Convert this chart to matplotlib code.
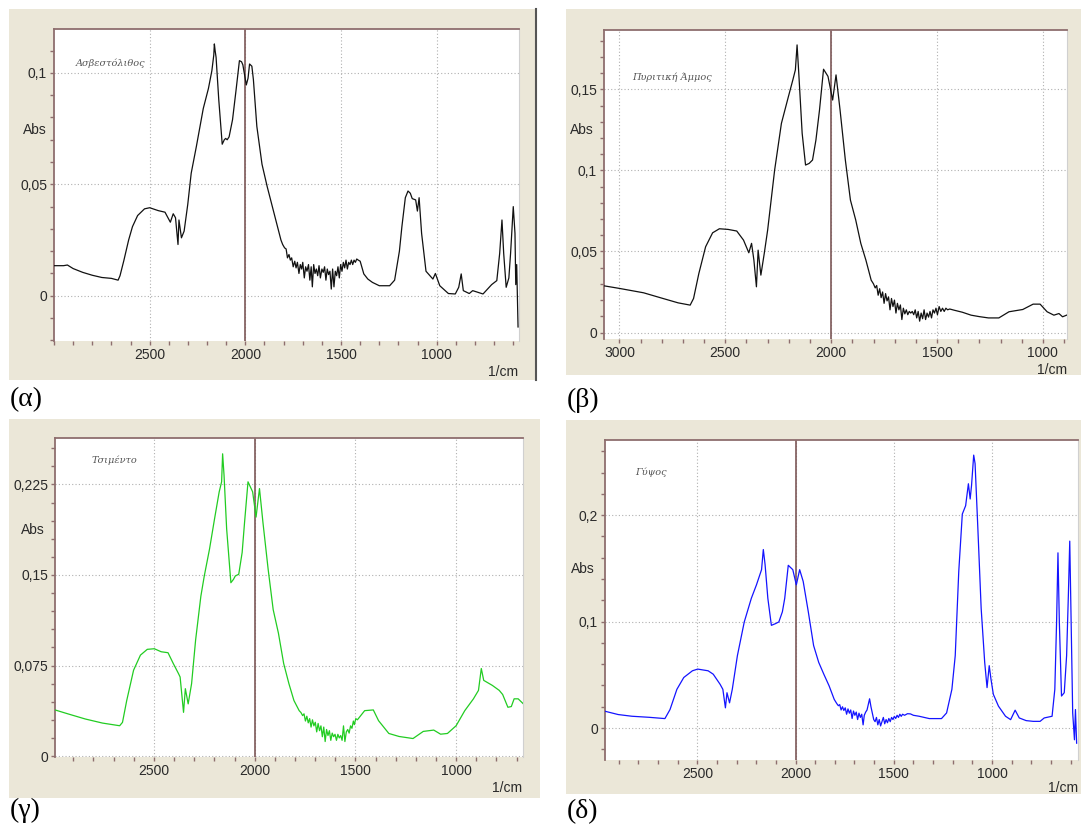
import numpy as np
import matplotlib
matplotlib.use("Agg")
import matplotlib.pyplot as plt
from matplotlib.patches import Rectangle
from matplotlib.ticker import MultipleLocator, FixedLocator, FixedFormatter

W, H = 1081, 830

# --- (α) Ασβεστόλιθος ---
wn_a = [3000, 2950, 2930, 2900, 2850, 2800, 2750, 2700, 2665, 2655, 2635, 2610, 2590, 2563,
        2527, 2500, 2455, 2420, 2392, 2377, 2365, 2352, 2347, 2334, 2320, 2301, 2283, 2256,
        2220, 2193, 2175, 2165, 2162, 2158, 2153, 2139, 2121, 2110, 2103, 2095, 2085, 2067,
        2049, 2031, 2020, 2013, 1995, 1986, 1978, 1973, 1966, 1958, 1940, 1913, 1886, 1868,
        1850, 1832, 1814, 1805, 1795, 1787, 1780, 1772, 1765, 1758, 1750, 1742, 1735, 1728,
        1720, 1713, 1706, 1700, 1692, 1685, 1678, 1670, 1663, 1656, 1650, 1643, 1636, 1629,
        1622, 1615, 1608, 1600, 1593, 1586, 1579, 1572, 1565, 1558, 1551, 1544, 1537, 1530,
        1523, 1516, 1509, 1502, 1495, 1488, 1481, 1474, 1467, 1460, 1453, 1446, 1439, 1432,
        1425, 1418, 1410, 1400, 1381, 1360, 1336, 1300, 1246, 1220, 1209, 1195, 1182, 1164,
        1150, 1138, 1128, 1110, 1101, 1092, 1079, 1056, 1020, 1007, 984, 939, 903, 885, 872,
        861, 830, 812, 758, 713, 686, 671, 659, 650, 637, 623, 614, 600, 591, 587, 582, 575]
abs_a = [0.0135, 0.0135, 0.0138, 0.0122, 0.0105, 0.0092, 0.0082, 0.0078, 0.0070, 0.0090,
         0.0158, 0.0250, 0.0310, 0.0360, 0.0390, 0.0395, 0.0382, 0.0375, 0.0330, 0.0368,
         0.0350, 0.0230, 0.0340, 0.0260, 0.0290, 0.0410, 0.0550, 0.0670, 0.0840, 0.0930,
         0.1010, 0.1080, 0.1130, 0.1100, 0.1070, 0.0880, 0.0680, 0.0700, 0.0706, 0.0700,
         0.0713, 0.0790, 0.0920, 0.1055, 0.1050, 0.1036, 0.0946, 0.0976, 0.1040, 0.1036,
         0.1030, 0.0970, 0.0760, 0.0590, 0.0490, 0.0430, 0.0370, 0.0310, 0.0250, 0.0230,
         0.0215, 0.0210, 0.0170, 0.0185, 0.0160, 0.0170, 0.0130, 0.0155, 0.0125, 0.0150,
         0.0100, 0.0140, 0.0120, 0.0150, 0.0080, 0.0130, 0.0110, 0.0140, 0.0070, 0.0130,
         0.0040, 0.0140, 0.0100, 0.0120, 0.0090, 0.0135, 0.0080, 0.0120, 0.0105, 0.0130,
         0.0070, 0.0120, 0.0095, 0.0110, 0.0030, 0.0120, 0.0040, 0.0110, 0.0090, 0.0130,
         0.0080, 0.0140, 0.0110, 0.0150, 0.0125, 0.0160, 0.0120, 0.0150, 0.0140, 0.0160,
         0.0140, 0.0160, 0.0150, 0.0165, 0.0160, 0.0155, 0.0098, 0.0075, 0.0060, 0.0045,
         0.0045, 0.0070, 0.0128, 0.0200, 0.0310, 0.0440, 0.0470, 0.0460, 0.0436, 0.0430,
         0.0380, 0.0440, 0.0280, 0.0110, 0.0075, 0.0100, 0.0045, 0.0010, 0.0008, 0.0038,
         0.0098, 0.0023, 0.0010, 0.0023, 0.0008, 0.0050, 0.0068, 0.0190, 0.0340, 0.0190,
         0.0038, 0.0080, 0.0190, 0.0400, 0.0280, 0.0050, 0.0140, -0.0140]

# --- (β) Πυριτική Άμμος ---
wn_b = [3073, 3000, 2886, 2805, 2723, 2666, 2650, 2625, 2593, 2560, 2528, 2487, 2446, 2414,
        2389, 2376, 2365, 2353, 2345, 2332, 2316, 2300, 2267, 2235, 2202, 2181, 2169, 2161,
        2153, 2137, 2121, 2104, 2088, 2072, 2055, 2036, 2015, 1993, 1977, 1958, 1933, 1909,
        1884, 1860, 1836, 1811, 1800, 1792, 1785, 1778, 1771, 1764, 1757, 1750, 1743, 1736,
        1729, 1722, 1715, 1708, 1701, 1694, 1687, 1680, 1673, 1666, 1659, 1652, 1645, 1638,
        1631, 1624, 1617, 1610, 1603, 1596, 1589, 1582, 1575, 1568, 1561, 1554, 1547, 1540,
        1533, 1526, 1519, 1512, 1505, 1498, 1490, 1482, 1474, 1466, 1458, 1450, 1440, 1420,
        1380, 1339, 1300, 1257, 1208, 1160, 1095, 1046, 1013, 980, 948, 924, 907, 888]
abs_b = [0.0288, 0.0272, 0.0245, 0.0214, 0.0183, 0.0169, 0.0210, 0.0364, 0.0529, 0.0615,
         0.0640, 0.0636, 0.0626, 0.0570, 0.0492, 0.0550, 0.0447, 0.0282, 0.0508, 0.0354,
         0.0488, 0.0632, 0.1002, 0.1290, 0.1455, 0.1558, 0.1620, 0.1774, 0.1600, 0.1229,
         0.1033, 0.1043, 0.1064, 0.1187, 0.1373, 0.1624, 0.1580, 0.1434, 0.1589, 0.1373,
         0.1064, 0.0817, 0.0694, 0.0550, 0.0447, 0.0323, 0.0300, 0.0275, 0.0290, 0.0230,
         0.0270, 0.0215, 0.0250, 0.0180, 0.0240, 0.0195, 0.0220, 0.0140, 0.0210, 0.0160,
         0.0200, 0.0120, 0.0180, 0.0140, 0.0170, 0.0080, 0.0150, 0.0115, 0.0140, 0.0110,
         0.0130, 0.0120, 0.0130, 0.0110, 0.0140, 0.0090, 0.0130, 0.0070, 0.0120, 0.0085,
         0.0140, 0.0080, 0.0120, 0.0095, 0.0130, 0.0090, 0.0140, 0.0120, 0.0150, 0.0110,
         0.0160, 0.0130, 0.0150, 0.0130, 0.0150, 0.0140, 0.0145, 0.0138, 0.0125, 0.0107,
         0.0098, 0.0090, 0.0090, 0.0128, 0.0142, 0.0175, 0.0175, 0.0128, 0.0107, 0.0117,
         0.0097, 0.0107]

# --- (γ) Τσιμέντο ---
wn_c = [2991, 2926, 2841, 2755, 2670, 2656, 2635, 2601, 2567, 2533, 2498, 2464, 2430, 2404,
        2378, 2370, 2353, 2344, 2330, 2313, 2293, 2267, 2250, 2224, 2199, 2176, 2164, 2159,
        2152, 2139, 2118, 2105, 2096, 2079, 2062, 2050, 2033, 2010, 1993, 1976, 1959, 1933,
        1908, 1882, 1856, 1830, 1805, 1779, 1770, 1762, 1755, 1748, 1741, 1734, 1727, 1720,
        1713, 1706, 1699, 1692, 1685, 1678, 1671, 1664, 1657, 1650, 1643, 1636, 1629, 1622,
        1615, 1608, 1601, 1594, 1587, 1580, 1573, 1566, 1559, 1552, 1545, 1538, 1531, 1524,
        1517, 1510, 1505, 1498, 1490, 1454, 1411, 1385, 1334, 1283, 1214, 1163, 1111, 1077,
        1043, 1000, 957, 914, 889, 875, 863, 820, 786, 769, 743, 726, 712, 692, 666]
abs_c = [0.0382, 0.0349, 0.0307, 0.0273, 0.0251, 0.0279, 0.0460, 0.0711, 0.0836, 0.0884,
         0.0889, 0.0864, 0.0856, 0.0767, 0.0683, 0.0655, 0.0362, 0.0558, 0.0432, 0.0600,
         0.0962, 0.1324, 0.1492, 0.1715, 0.1966, 0.2189, 0.2272, 0.2504, 0.2328, 0.1882,
         0.1436, 0.1464, 0.1492, 0.1506, 0.1687, 0.1938, 0.2272, 0.2189, 0.1980, 0.2216,
         0.1938, 0.1547, 0.1213, 0.1018, 0.0767, 0.0600, 0.0460, 0.0376, 0.0360, 0.0335,
         0.0350, 0.0290, 0.0330, 0.0275, 0.0310, 0.0240, 0.0300, 0.0250, 0.0280, 0.0200,
         0.0270, 0.0210, 0.0250, 0.0160, 0.0240, 0.0120, 0.0220, 0.0170, 0.0210, 0.0130,
         0.0190, 0.0160, 0.0180, 0.0130, 0.0180, 0.0150, 0.0170, 0.0130, 0.0250, 0.0120,
         0.0200, 0.0220, 0.0190, 0.0250, 0.0230, 0.0290, 0.0260, 0.0310, 0.0300, 0.0376,
         0.0382, 0.0293, 0.0187, 0.0162, 0.0145, 0.0204, 0.0215, 0.0181, 0.0187, 0.0251,
         0.0376, 0.0474, 0.0544, 0.0725, 0.0627, 0.0585, 0.0544, 0.0510, 0.0404, 0.0410,
         0.0474, 0.0474, 0.0432]

# --- (δ) Γύψος ---
wn_d = [2970, 2903, 2833, 2745, 2665, 2639, 2604, 2569, 2525, 2498, 2445, 2419, 2384, 2370,
        2357, 2349, 2336, 2322, 2296, 2261, 2225, 2199, 2173, 2164, 2155, 2141, 2123, 2102,
        2085, 2067, 2055, 2037, 2014, 1996, 1979, 1961, 1935, 1908, 1882, 1856, 1829, 1803,
        1790, 1782, 1775, 1768, 1761, 1754, 1747, 1740, 1733, 1726, 1719, 1712, 1705, 1698,
        1691, 1684, 1677, 1670, 1663, 1656, 1650, 1643, 1636, 1630, 1623, 1616, 1609, 1602,
        1595, 1588, 1581, 1574, 1567, 1560, 1553, 1546, 1539, 1532, 1525, 1518, 1511, 1504,
        1497, 1490, 1483, 1476, 1469, 1462, 1455, 1445, 1430, 1415, 1400, 1371, 1319, 1257,
        1231, 1204, 1187, 1169, 1151, 1134, 1120, 1111, 1104, 1093, 1086, 1072, 1055, 1037,
        1025, 1014, 1005, 993, 967, 931, 905, 882, 861, 826, 790, 755, 734, 694, 680, 671,
        664, 657, 646, 632, 620, 611, 604, 597, 589, 580, 575, 569]
abs_d = [0.0158, 0.0127, 0.0111, 0.0101, 0.0089, 0.0174, 0.0364, 0.0475, 0.0538, 0.0554,
         0.0538, 0.0506, 0.0411, 0.0364, 0.0190, 0.0332, 0.0237, 0.0364, 0.0680, 0.0997,
         0.1219, 0.1345, 0.1488, 0.1677, 0.1535, 0.1219, 0.0965, 0.0981, 0.0997, 0.1092,
         0.1219, 0.1529, 0.1488, 0.1345, 0.1488, 0.1377, 0.1092, 0.0775, 0.0617, 0.0506,
         0.0396, 0.0269, 0.0230, 0.0210, 0.0220, 0.0170, 0.0200, 0.0165, 0.0190, 0.0130,
         0.0180, 0.0140, 0.0170, 0.0090, 0.0160, 0.0120, 0.0150, 0.0080, 0.0140, 0.0100,
         0.0130, 0.0030, 0.0120, 0.0150, 0.0170, 0.0220, 0.0275, 0.0200, 0.0140, 0.0080,
         0.0060, 0.0100, 0.0030, 0.0080, 0.0020, 0.0060, 0.0100, 0.0040, 0.0080, 0.0050,
         0.0090, 0.0060, 0.0100, 0.0080, 0.0110, 0.0090, 0.0120, 0.0100, 0.0130, 0.0110,
         0.0130, 0.0120, 0.0135, 0.0133, 0.0120, 0.0111, 0.0089, 0.0089, 0.0142, 0.0364,
         0.0680, 0.1472, 0.2010, 0.2089, 0.2295, 0.2152, 0.2279, 0.2564, 0.2485, 0.1883,
         0.1124, 0.0617, 0.0380, 0.0586, 0.0459, 0.0317, 0.0206, 0.0111, 0.0079, 0.0168,
         0.0095, 0.0070, 0.0063, 0.0063, 0.0095, 0.0111, 0.0364, 0.0997, 0.1646, 0.0997,
         0.0301, 0.0332, 0.0680, 0.1250, 0.1756, 0.0997, 0.0142, -0.0110, 0.0174, -0.0142]

names = ["Ασβεστόλιθος", "Πυριτική Άμμος", "Τσιμέντο", "Γύψος"]
captions = ["(α)", "(β)", "(γ)", "(δ)"]
yticks = [[0, 0.05, 0.1], [0, 0.05, 0.1, 0.15], [0, 0.075, 0.15, 0.225], [0, 0.1, 0.2]]
ytick_labels = [["0", "0,05", "0,1"], ["0", "0,05", "0,1", "0,15"],
                ["0", "0,075", "0,15", "0,225"], ["0", "0,1", "0,2"]]
xticks = [[2500, 2000, 1500, 1000], [3000, 2500, 2000, 1500, 1000],
          [2500, 2000, 1500, 1000], [2500, 2000, 1500, 1000]]

# layout in pixels (left, top, right, bottom)
frames = [(9, 9, 536, 380), (566, 9, 1081, 375), (9, 419, 540, 798), (566, 420, 1081, 794)]
plots = [(54, 29, 519, 341), (604, 30, 1067, 339), (55, 438, 523, 757), (605, 440, 1078, 760)]
xlims = [(3000, 570), (3073, 886), (2991, 668), (2970, 562)]
ylims = [(-0.0203, 0.1197), (-0.004, 0.1866), (-0.0008, 0.2635), (-0.030, 0.2706)]
yminor = [0.01, 0.01, 0.015, 0.02]
colors = ["#111111", "#111111", "#22cc22", "#1414ff"]
abs_pos = [(35, 130), (582, 130), (33, 530), (583, 569)]
name_pos = [(76, 63), (632, 77), (92, 460), (635, 472)]
cap_pos = [(10, 400), (567, 400), (10, 810), (567, 812)]
unit_pos = [(518, 372), (1067, 370), (522, 788), (1078, 788)]

beige = "#ebe7d8"
spine_c = "#8e6e6e"
txt_c = "#2a2a2a"

fig = plt.figure(figsize=(W / 100, H / 100), dpi=100)
fig.patch.set_facecolor("white")


def fx(x):
    return x / W


def fy(y):
    return 1 - y / H


series = [(wn_a, abs_a), (wn_b, abs_b), (wn_c, abs_c), (wn_d, abs_d)]

for i in range(4):
    l, t, r, b = frames[i]
    fig.patches.append(Rectangle((fx(l), fy(b)), fx(r - l), (b - t) / H,
                                 transform=fig.transFigure, facecolor=beige,
                                 edgecolor="none", zorder=-5))
    l, t, r, b = plots[i]
    ax = fig.add_axes([fx(l), fy(b), fx(r - l), (b - t) / H])
    ax.set_zorder(2)
    ax.set_facecolor("white")
    x, y = series[i]
    ax.plot(x, y, color=colors[i], lw=0.9, zorder=3)
    ax.axvline(2000, color="#7d5858", lw=1.2, zorder=2)
    ax.set_xlim(*xlims[i])
    ax.set_ylim(*ylims[i])

    ax.xaxis.set_major_locator(FixedLocator(xticks[i]))
    ax.xaxis.set_minor_locator(MultipleLocator(100))
    ax.yaxis.set_major_locator(FixedLocator(yticks[i]))
    ax.yaxis.set_major_formatter(FixedFormatter(ytick_labels[i]))
    ax.yaxis.set_minor_locator(MultipleLocator(yminor[i]))

    ax.grid(True, which="major", color="#b0b0b0", linestyle=(0, (1, 2)), lw=0.8)
    ax.tick_params(axis="both", which="both", direction="out", color=spine_c,
                   length=3, width=1, labelsize=10, labelcolor=txt_c, pad=2)
    for lab in ax.get_xticklabels() + ax.get_yticklabels():
        lab.set_fontfamily("Liberation Sans")

    ax.spines["top"].set_color(spine_c)
    ax.spines["left"].set_color(spine_c)
    ax.spines["top"].set_linewidth(1.3)
    ax.spines["left"].set_linewidth(1.3)
    ax.spines["bottom"].set_visible(False)
    ax.spines["right"].set_color("#d0d0d0")
    ax.spines["right"].set_linewidth(0.8)

    fig.text(fx(abs_pos[i][0]), fy(abs_pos[i][1]), "Abs", ha="center", va="center",
             fontsize=10, color=txt_c, family="Liberation Sans")
    fig.text(fx(unit_pos[i][0]), fy(unit_pos[i][1]), "1/cm", ha="right", va="center",
             fontsize=10, color=txt_c, family="Liberation Sans")
    fig.text(fx(name_pos[i][0]), fy(name_pos[i][1]), names[i], ha="left", va="center",
             fontsize=7, style="italic", color="#555555", family="DejaVu Serif")
    fig.text(fx(cap_pos[i][0]), fy(cap_pos[i][1]), captions[i], ha="left", va="center",
             fontsize=20, color="black", family="Liberation Serif")

# dark edge on the right of the first screenshot
fig.add_artist(plt.Line2D([fx(536), fx(536)], [fy(380), fy(9)], color="#555555", lw=1.5))

fig.savefig("out.png", dpi=100)
